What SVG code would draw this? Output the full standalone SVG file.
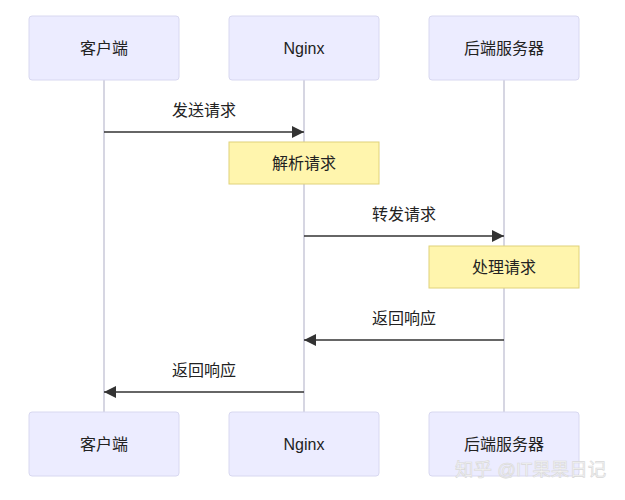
<svg xmlns="http://www.w3.org/2000/svg" width="625" height="500" viewBox="0 0 625 500">
<defs>
<style>
.actor{fill:#ECECFF;stroke:#D8D8F0;stroke-width:1}
.note{fill:#FFF5AD;stroke:#E0D27A;stroke-width:1}
.life{stroke:#C8C8D8;stroke-width:1.5}
.msg{stroke:#333;stroke-width:1.5;fill:none}
text{font-family:"Liberation Sans","Noto Sans CJK SC",sans-serif;font-size:16px;fill:#222;text-anchor:middle;dominant-baseline:central}
.wm{fill:#f4f4f4;stroke:#d8d8d8;stroke-width:0.6;font-size:18.5px;text-anchor:start}
</style>
<marker id="ah" viewBox="0 0 10 10" refX="10" refY="5" markerWidth="12" markerHeight="12" markerUnits="userSpaceOnUse" orient="auto">
<path d="M0,0 L10,5 L0,10 z" fill="#333"/>
</marker>
</defs>
<rect width="625" height="500" fill="#fff"/>
<g id="lifelines">
<line class="life" x1="104" y1="80" x2="104" y2="412"/>
<line class="life" x1="304" y1="80" x2="304" y2="412"/>
<line class="life" x1="504" y1="80" x2="504" y2="412"/>
</g>
<g id="actor-client-top"><rect class="actor" x="29" y="16" width="150" height="64" rx="3"/><text x="104" y="48">客户端</text></g>
<g id="actor-nginx-top"><rect class="actor" x="229" y="16" width="150" height="64" rx="3"/><text x="304" y="48">Nginx</text></g>
<g id="actor-backend-top"><rect class="actor" x="429" y="16" width="150" height="64" rx="3"/><text x="504" y="48">后端服务器</text></g>
<g id="actor-client-bottom"><rect class="actor" x="29" y="412" width="150" height="64" rx="3"/><text x="104" y="444">客户端</text></g>
<g id="actor-nginx-bottom"><rect class="actor" x="229" y="412" width="150" height="64" rx="3"/><text x="304" y="444">Nginx</text></g>
<g id="actor-backend-bottom"><rect class="actor" x="429" y="412" width="150" height="64" rx="3"/><text x="504" y="444">后端服务器</text></g>
<g id="note-parse"><rect class="note" x="229" y="142" width="150" height="42"/><text x="304" y="163">解析请求</text></g>
<g id="note-process"><rect class="note" x="429" y="246" width="150" height="42"/><text x="504" y="267">处理请求</text></g>
<g id="connectors">
<line class="msg" x1="104" y1="132" x2="304" y2="132" marker-end="url(#ah)"/>
<text x="204" y="110">发送请求</text>
<line class="msg" x1="304" y1="236" x2="504" y2="236" marker-end="url(#ah)"/>
<text x="404" y="214">转发请求</text>
<line class="msg" x1="504" y1="340" x2="304" y2="340" marker-end="url(#ah)"/>
<text x="404" y="318">返回响应</text>
<line class="msg" x1="304" y1="392" x2="104" y2="392" marker-end="url(#ah)"/>
<text x="204" y="370">返回响应</text>
</g>
<text class="wm" x="455" y="469">知乎 @IT果果日记</text>
</svg>
